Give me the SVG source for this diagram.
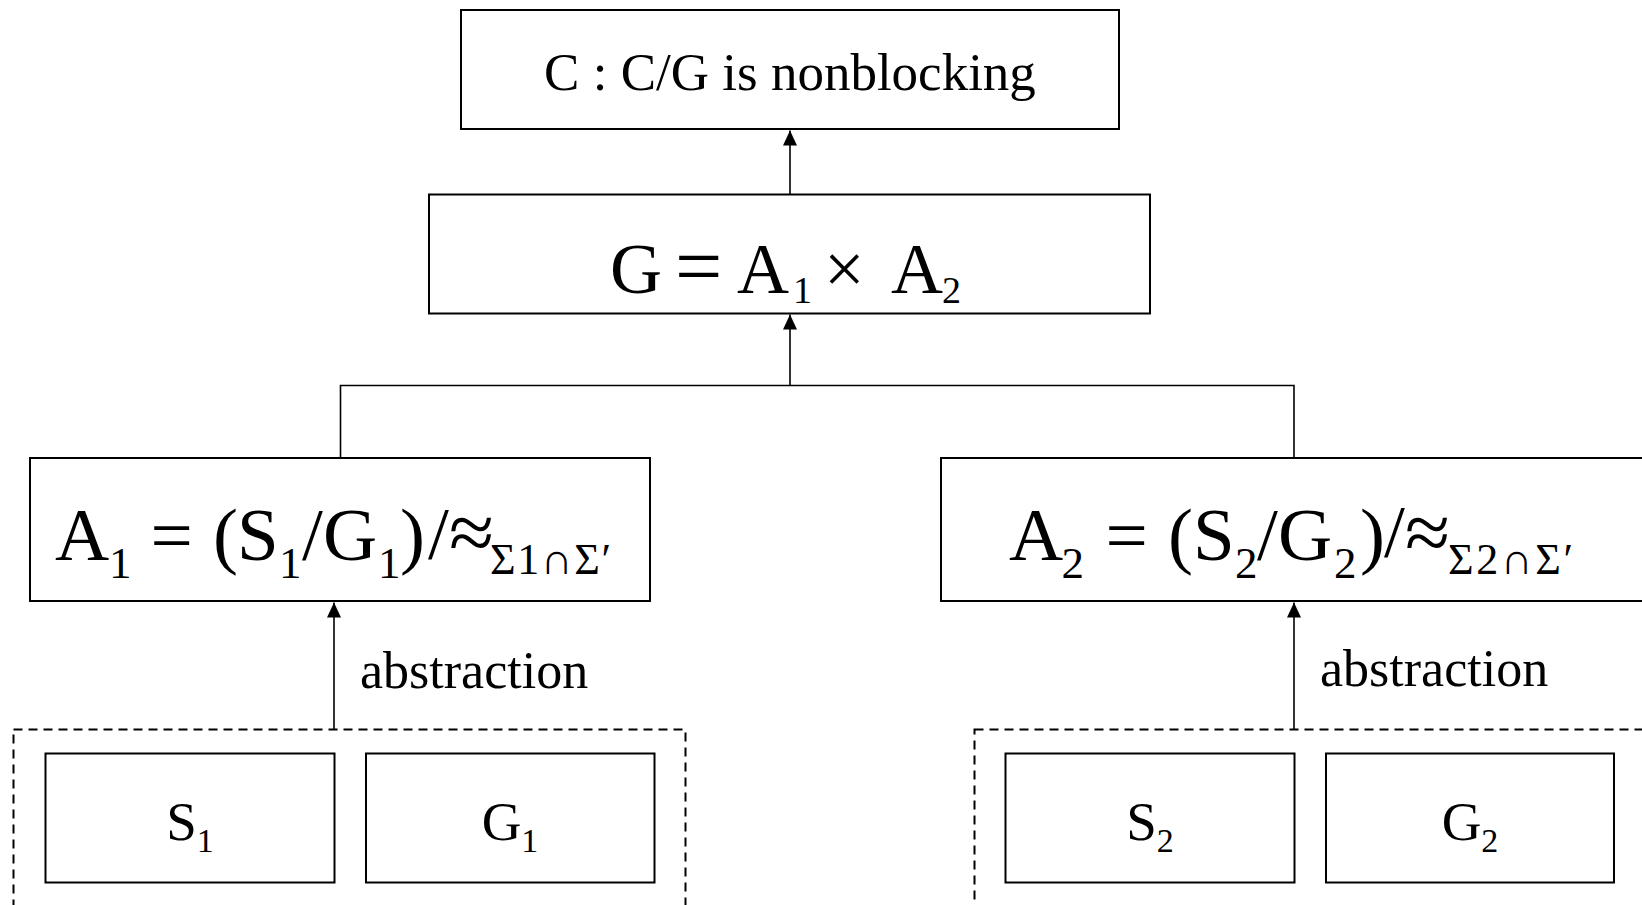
<svg xmlns="http://www.w3.org/2000/svg" width="1642" height="905" viewBox="0 0 1642 905">
<style>
text { font-family: "Liberation Serif", "Times New Roman", serif; fill: #000; }
.box { fill: #fff; stroke: #000; stroke-width: 2; }
.dash { fill: none; stroke: #000; stroke-width: 2; stroke-dasharray: 9 6; }
.conn { fill: none; stroke: #000; stroke-width: 1.6; }
.arrow { marker-end: url(#ah); }
.m { font-size: 75px; }
.s { font-size: 45px; }
.sg { font-size: 44px; }
.ap { font-size: 82px; }
</style>
<defs>
<marker id="ah" viewBox="0 0 15 14" refX="15" refY="7" markerWidth="15" markerHeight="14" markerUnits="userSpaceOnUse" orient="auto">
<path d="M0,0 L15,7 L0,14 z" fill="#000"/>
</marker>
</defs>
<rect width="1642" height="905" fill="#fff"/>

<g id="groupL">
<rect class="dash" x="13.5" y="729.5" width="672" height="220"/>
</g>
<g id="groupR">
<rect class="dash" x="974.5" y="729.5" width="720" height="220"/>
</g>

<g id="connectors">
<path class="conn arrow" d="M790,194.5 V130.5"/>
<path class="conn arrow" d="M790,385.5 V314.5"/>
<path class="conn" d="M340.5,458 V385.5 H1294 V458"/>
<path class="conn arrow" d="M334,729.5 V602.5"/>
<path class="conn arrow" d="M1294,729.5 V602.5"/>
</g>

<g id="nodeC">
<rect class="box" x="461" y="10" width="658" height="119"/>
<text x="790" y="90" font-size="53" text-anchor="middle">C : C/G is nonblocking</text>
</g>

<g id="nodeG">
<rect class="box" x="429" y="194.5" width="721" height="119"/>
<text y="293" font-size="72"><tspan x="610">G</tspan><tspan x="675" y="295" font-size="84">=</tspan><tspan x="737" y="293">A</tspan><tspan x="793" y="303" font-size="38">1</tspan><tspan x="824" y="293">×</tspan><tspan x="891">A</tspan><tspan x="942" y="303" font-size="38">2</tspan></text>
</g>

<g id="nodeA1">
<rect class="box" x="30" y="458" width="620" height="143"/>
<text y="560" class="m"><tspan x="55">A</tspan><tspan class="s" x="109" y="578">1</tspan><tspan x="150.5" y="560">=</tspan><tspan x="213">(</tspan><tspan x="237">S</tspan><tspan class="s" x="279" y="578">1</tspan><tspan x="302" y="560">/</tspan><tspan x="323">G</tspan><tspan class="s" x="378" y="578">1</tspan><tspan x="400" y="560">)</tspan><tspan x="428" y="559">/</tspan><tspan class="ap" x="449" y="560">≈</tspan><tspan class="sg" x="490" y="574" textLength="121" lengthAdjust="spacing">Σ1∩Σ′</tspan></text>
</g>

<g id="nodeA2">
<rect class="box" x="941" y="458" width="720" height="143"/>
<text y="560" class="m"><tspan x="1009">A</tspan><tspan class="s" x="1061.6" y="578">2</tspan><tspan x="1105.5" y="560">=</tspan><tspan x="1168">(</tspan><tspan x="1193">S</tspan><tspan class="s" x="1235" y="578">2</tspan><tspan x="1257" y="560">/</tspan><tspan x="1278">G</tspan><tspan class="s" x="1334" y="578">2</tspan><tspan x="1360" y="560">)</tspan><tspan x="1384" y="557">/</tspan><tspan class="ap" x="1405" y="560">≈</tspan><tspan class="sg" x="1448" y="574" textLength="125" lengthAdjust="spacing">Σ2∩Σ′</tspan></text>
</g>

<g id="labelL">
<text x="360" y="688" font-size="52">abstraction</text>
</g>
<g id="labelR">
<text x="1320" y="686" font-size="52">abstraction</text>
</g>

<g id="nodeS1">
<rect class="box" x="45.5" y="753.5" width="289" height="129"/>
<text x="190" y="840" font-size="55" text-anchor="middle">S<tspan font-size="34" dy="12">1</tspan></text>
</g>
<g id="nodeG1">
<rect class="box" x="366" y="753.5" width="288.5" height="129"/>
<text x="510" y="840" font-size="55" text-anchor="middle">G<tspan font-size="34" dy="12">1</tspan></text>
</g>
<g id="nodeS2">
<rect class="box" x="1005.5" y="753.5" width="289" height="129"/>
<text x="1150" y="840" font-size="55" text-anchor="middle">S<tspan font-size="34" dy="12">2</tspan></text>
</g>
<g id="nodeG2">
<rect class="box" x="1326" y="753.5" width="288" height="129"/>
<text x="1470" y="840" font-size="55" text-anchor="middle">G<tspan font-size="34" dy="12">2</tspan></text>
</g>
</svg>
